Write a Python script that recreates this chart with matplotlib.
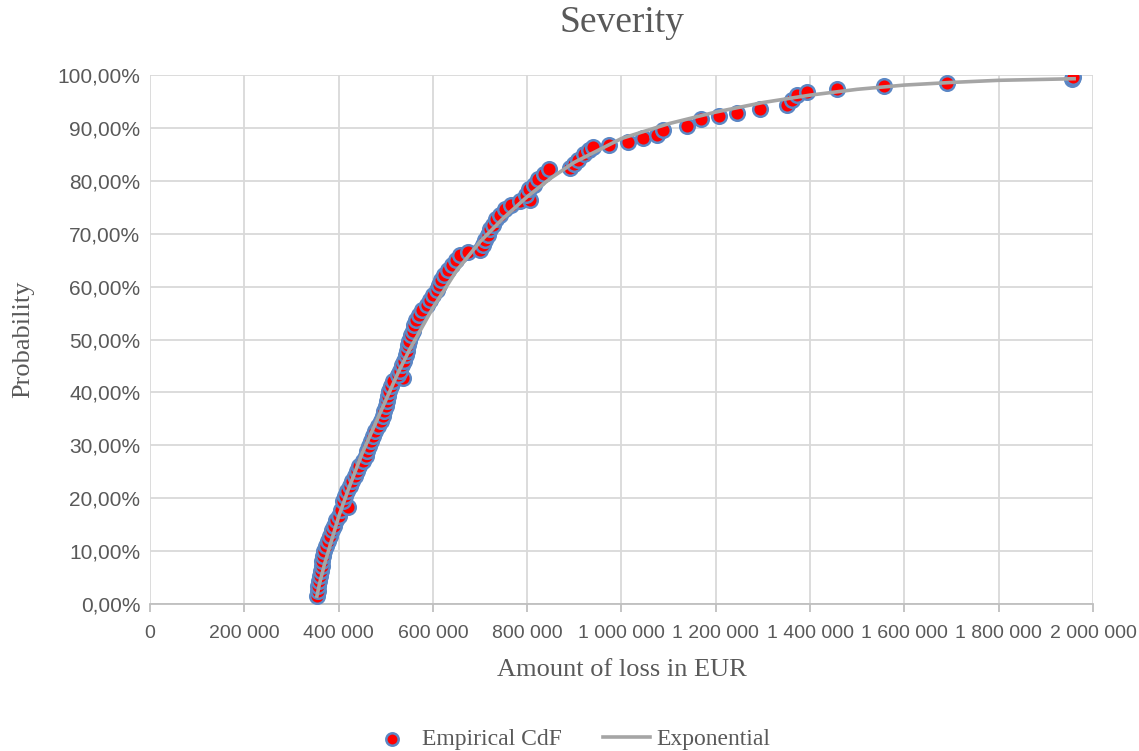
import matplotlib.pyplot as plt
from matplotlib.ticker import FuncFormatter, MultipleLocator

# empirical points (loss in EUR, cumulative probability in %)
loss_eur = [354000, 356000, 357000, 358000, 360000, 362000, 364000, 365000, 367000, 369000,
            373000, 377000, 381000, 386000, 390000, 394000, 401000, 405000, 420000, 409000,
            414000, 418000, 424000, 428000, 435000, 439000, 443000, 452000, 458000, 460000,
            465000, 469000, 473000, 477000, 484000, 490000, 494000, 496000, 501000, 503000,
            505000, 507000, 511000, 515000, 537000, 526000, 530000, 534000, 539000, 543000,
            545000, 547000, 549000, 554000, 558000, 560000, 564000, 571000, 577000, 587000,
            594000, 600000, 609000, 613000, 617000, 624000, 632000, 641000, 649000, 658000,
            674000, 700000, 706000, 711000, 717000, 721000, 728000, 734000, 742000, 753000,
            766000, 785000, 806000, 797000, 804000, 815000, 823000, 836000, 846000, 891000,
            899000, 908000, 920000, 931000, 940000, 974000, 1014000, 1046000, 1075000, 1088000,
            1139000, 1169000, 1207000, 1245000, 1294000, 1351000, 1362000, 1372000, 1393000, 1457000,
            1557000, 1690000, 1956000, 1958000]
empirical_pct = [1.5, 2.4, 3.4, 4.4, 5.3, 6.3, 7.2, 8.2, 9.1, 10.1,
                 11.0, 12.0, 12.9, 13.9, 14.8, 15.8, 16.7, 17.7, 18.3, 19.5,
                 20.4, 21.4, 22.3, 23.3, 24.2, 25.2, 26.1, 27.0, 28.0, 28.9,
                 29.9, 30.8, 31.8, 32.7, 33.7, 34.6, 35.6, 36.5, 37.5, 38.4,
                 39.4, 40.3, 41.3, 42.2, 42.8, 43.2, 44.1, 45.1, 46.0, 47.0,
                 47.9, 48.9, 49.8, 50.8, 51.7, 52.7, 53.6, 54.6, 55.5, 56.5,
                 57.4, 58.4, 59.3, 60.3, 61.2, 62.2, 63.1, 64.1, 65.0, 66.0,
                 66.6, 67.0, 67.9, 68.9, 69.8, 70.8, 71.7, 72.7, 73.6, 74.6,
                 75.5, 76.1, 76.3, 77.4, 78.4, 79.3, 80.3, 81.2, 82.2, 82.5,
                 83.1, 84.0, 85.0, 85.9, 86.4, 86.8, 87.3, 88.1, 88.7, 89.6,
                 90.4, 91.7, 92.2, 92.8, 93.6, 94.3, 95.3, 96.2, 96.7, 97.3,
                 97.9, 98.5, 99.2, 99.6]

# fitted exponential curve
expo_eur = [354000, 360000, 370000, 380000, 390000, 400000, 420000, 450000, 475000, 500000,
            525000, 550000, 575000, 600000, 650000, 700000, 750000, 800000, 850000, 900000,
            1000000, 1100000, 1200000, 1300000, 1400000, 1500000, 1600000, 1700000, 1800000, 1960000]
expo_pct = [1.5, 4.0, 7.5, 10.5, 13.5, 16.5, 21.5, 28.5, 33.5, 38.5,
            43.5, 48.0, 52.0, 56.0, 63.0, 68.5, 73.0, 77.0, 80.5, 83.5,
            88.0, 90.8, 93.0, 94.8, 96.2, 97.3, 98.1, 98.6, 99.0, 99.3]

text_col = "#595959"
serif = "Liberation Serif"
sans = "Liberation Sans"

fig = plt.figure(figsize=(11.39, 7.51), dpi=100)
ax = fig.add_axes([0.1317, 0.1957, 0.8279, 0.7044])

ax.scatter(loss_eur, [p / 100 for p in empirical_pct], s=110, facecolor="#ff0000",
           edgecolor="#5b87c5", linewidth=1.8, zorder=3, label="Empirical CdF")
ax.plot(expo_eur, [p / 100 for p in expo_pct], color="#a5a5a5", linewidth=2.6,
        zorder=4, label="Exponential")

ax.set_xlim(0, 2000000)
ax.set_ylim(0, 1)
ax.xaxis.set_major_locator(MultipleLocator(200000))
ax.yaxis.set_major_locator(MultipleLocator(0.1))
ax.xaxis.set_major_formatter(FuncFormatter(lambda v, p: f"{int(v):,}".replace(",", " ")))
ax.yaxis.set_major_formatter(FuncFormatter(lambda v, p: f"{v * 100:.2f}%".replace(".", ",")))

ax.grid(True, color="#d9d9d9", linewidth=1.3)
ax.set_axisbelow(True)
for s in ["top", "right", "left"]:
    ax.spines[s].set_visible(False)
ax.spines["bottom"].set_color("#bfbfbf")
ax.spines["bottom"].set_linewidth(1.3)
ax.tick_params(axis="x", colors="#bfbfbf", length=6, width=1.3, labelcolor=text_col,
               labelsize=14, pad=9)
ax.tick_params(axis="y", length=0, labelcolor=text_col, labelsize=15, pad=7)
for lab in ax.get_xticklabels() + ax.get_yticklabels():
    lab.set_fontfamily(sans)

ax.set_title("Severity", fontsize=27, color=text_col, family=serif, pad=31)
ax.set_xlabel("Amount of loss in EUR", fontsize=19, color=text_col, family=serif, labelpad=12)
ax.set_ylabel("Probability", fontsize=19, color=text_col, family=serif, labelpad=17)

leg = fig.legend(loc="lower center", bbox_to_anchor=(0.5, -0.027), ncol=2, frameon=False,
                 prop={"family": serif, "size": 17}, handlelength=2.0, columnspacing=1.7,
                 markerscale=0.85, handletextpad=0.3)
for t in leg.get_texts():
    t.set_color(text_col)

plt.savefig("out.png", dpi=100)
